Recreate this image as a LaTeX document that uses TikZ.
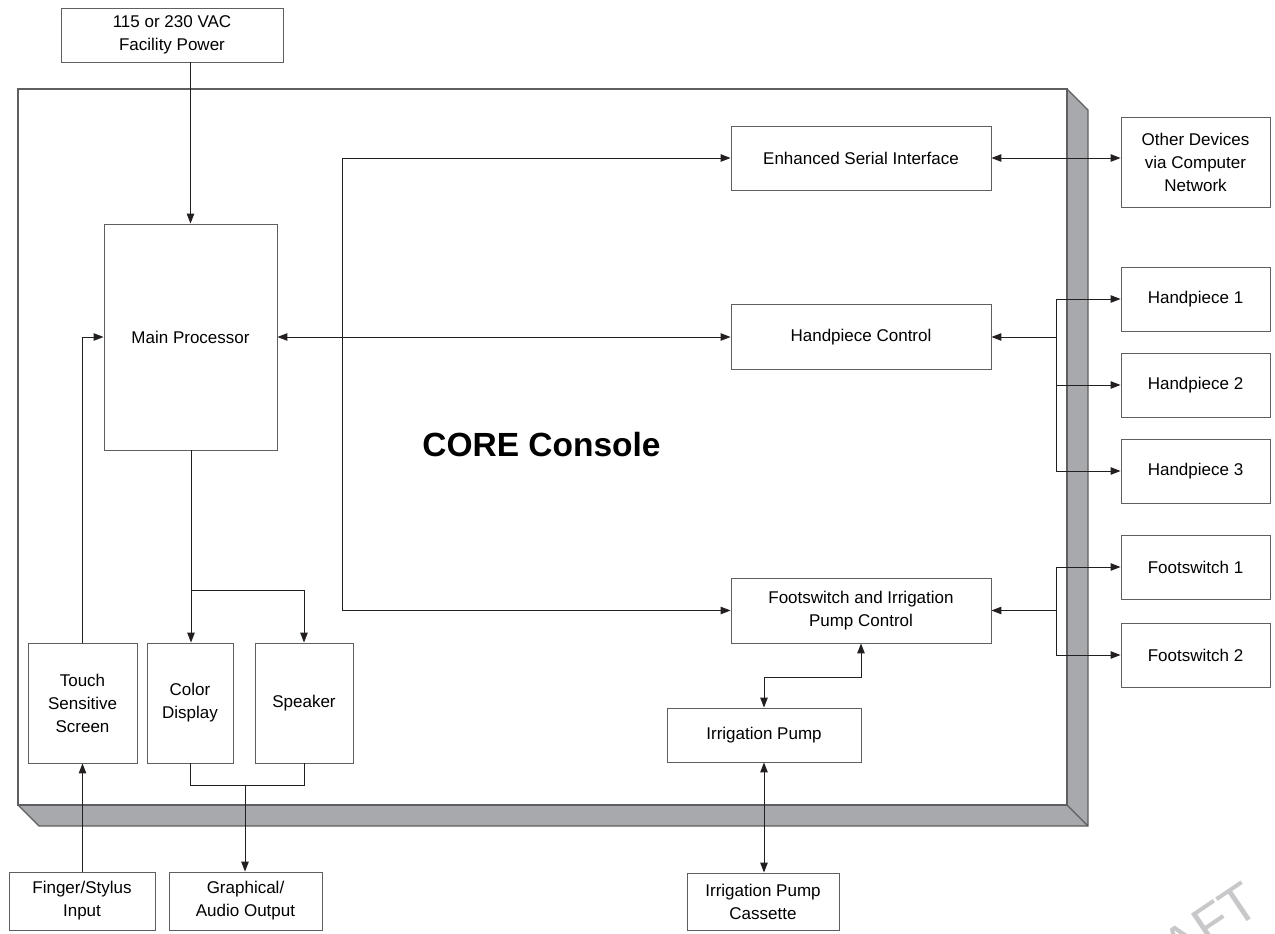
\documentclass[tikz,border=0pt]{standalone}
\usepackage{fontspec}
\setmainfont{Liberation Sans}
\usepackage{tikz}
\usetikzlibrary{arrows.meta,positioning}

\definecolor{sidegray}{RGB}{168,169,173}
\definecolor{boxgray}{RGB}{95,95,97}
\definecolor{linegray}{RGB}{35,31,32}
\definecolor{markgray}{RGB}{200,200,202}

\begin{document}
\begin{tikzpicture}[x=1pt,y=-1pt,>={Triangle[length=10pt,width=7.5pt]}]
  \tikzstyle{block} = [draw=boxgray,line width=0.9pt,fill=white,inner sep=0pt,align=center,
                       font=\fontsize{17}{23}\selectfont]
  \tikzstyle{link} = [draw=linegray,line width=1pt]

  \useasboundingbox (0,0) rectangle (1275,934);

  % console box with its side and bottom faces
  \fill[sidegray] (1067,89) -- (1088,110) -- (1088,826) -- (39,826) -- (18,805) -- (1067,805) -- cycle;
  \draw[boxgray,line width=1.2pt,fill=white] (18,89) rectangle (1067,805);
  \draw[boxgray,line width=1.2pt] (1067,89) -- (1088,110) -- (1088,826) -- (39,826) -- (18,805)
                                  (1067,805) -- (1088,826);
  \node[font=\fontsize{33.5}{36}\selectfont\bfseries] (title) at (541.5,445) {CORE Console};

  % watermark
  \node[markgray,rotate=34,font=\fontsize{54}{60}\selectfont] (mark) at (1178,946) {DRAFT};

  % blocks
  \node[block,minimum width=222,minimum height=54] (power) at (172,35) {115 or 230 VAC\\Facility Power};
  \node[block,minimum width=173,minimum height=226] (main) at (190.5,337) {Main Processor};
  \node[block,minimum width=260,minimum height=64] (esi) at (861,158) {Enhanced Serial Interface};
  \node[block,minimum width=260,minimum height=65] (hpctl) at (861,337) {Handpiece Control};
  \node[block,minimum width=260,minimum height=65] (fipc) at (861,610.5) {Footswitch and Irrigation\\Pump Control};
  \node[block,minimum width=149,minimum height=90] (net) at (1195.5,162) {Other Devices\\via Computer\\Network};
  \node[block,minimum width=149,minimum height=64] (hp1) at (1195.5,299) {Handpiece 1};
  \node[block,minimum width=149,minimum height=64] (hp2) at (1195.5,385) {Handpiece 2};
  \node[block,minimum width=149,minimum height=64] (hp3) at (1195.5,471) {Handpiece 3};
  \node[block,minimum width=149,minimum height=64] (fs1) at (1195.5,567) {Footswitch 1};
  \node[block,minimum width=149,minimum height=64] (fs2) at (1195.5,655) {Footswitch 2};
  \node[block,minimum width=109,minimum height=120] (touch) at (82.5,703) {Touch\\Sensitive\\Screen};
  \node[block,minimum width=86,minimum height=120] (display) at (190,703) {Color\\Display};
  \node[block,minimum width=98,minimum height=120] (speaker) at (304,703) {Speaker};
  \node[block,minimum width=194,minimum height=54] (pump) at (764,735) {Irrigation Pump};
  \node[block,minimum width=146,minimum height=58] (finger) at (82,901) {Finger/Stylus\\Input};
  \node[block,minimum width=153,minimum height=58] (output) at (245.5,901) {Graphical/\\Audio Output};
  \node[block,minimum width=152,minimum height=57] (cassette) at (763,901.5) {Irrigation Pump\\Cassette};

  % junctions
  \coordinate (bus) at (342,337);
  \coordinate (hpj) at (1056,337);
  \coordinate (fsj) at (1056,610.5);
  \coordinate (split) at (191,590);
  \coordinate (outj) at (245,785);
  \coordinate (pj) at (764,677);

  % connectors
  \draw[link,->] (main.north |- power.south) -- (main.north);
  \draw[link,<->] (main.east) -- (hpctl.west);
  \draw[link,<->] (esi.west) -- (esi.west -| bus) -- (fipc.west -| bus) -- (fipc.west);
  \draw[link,<->] (esi.east) -- (esi.east -| net.west);
  \draw[link,->] (hpj) -- (hpctl.east);
  \draw[link] (hpj |- hp1.west) -- (hpj |- hp3.west);
  \foreach \n in {1,2,3}
    \draw[link,->] (hpj |- hp\n.west) -- (hp\n.west);
  \draw[link,->] (fsj) -- (fipc.east);
  \draw[link] (fsj |- fs1.west) -- (fsj |- fs2.west);
  \foreach \n in {1,2}
    \draw[link,->] (fsj |- fs\n.west) -- (fs\n.west);
  \draw[link] (main.south -| split) -- (split);
  \draw[link,->] (split) -- (split |- display.north);
  \draw[link,->] (split) -| (speaker.north);
  \draw[link,->] (touch.north) |- (main.west);
  \draw[link,->] (touch.south |- finger.north) -- (touch.south);
  \draw[link] (display.south) |- (speaker.south |- outj) -- (speaker.south);
  \draw[link,->] (outj) -- (outj |- output.north);
  \draw[link,<->] (fipc.south) |- (pj) -- (pump.north);
  \draw[link,<->] (pump.south) -- (pump.south |- cassette.north);

\end{tikzpicture}
\end{document}
